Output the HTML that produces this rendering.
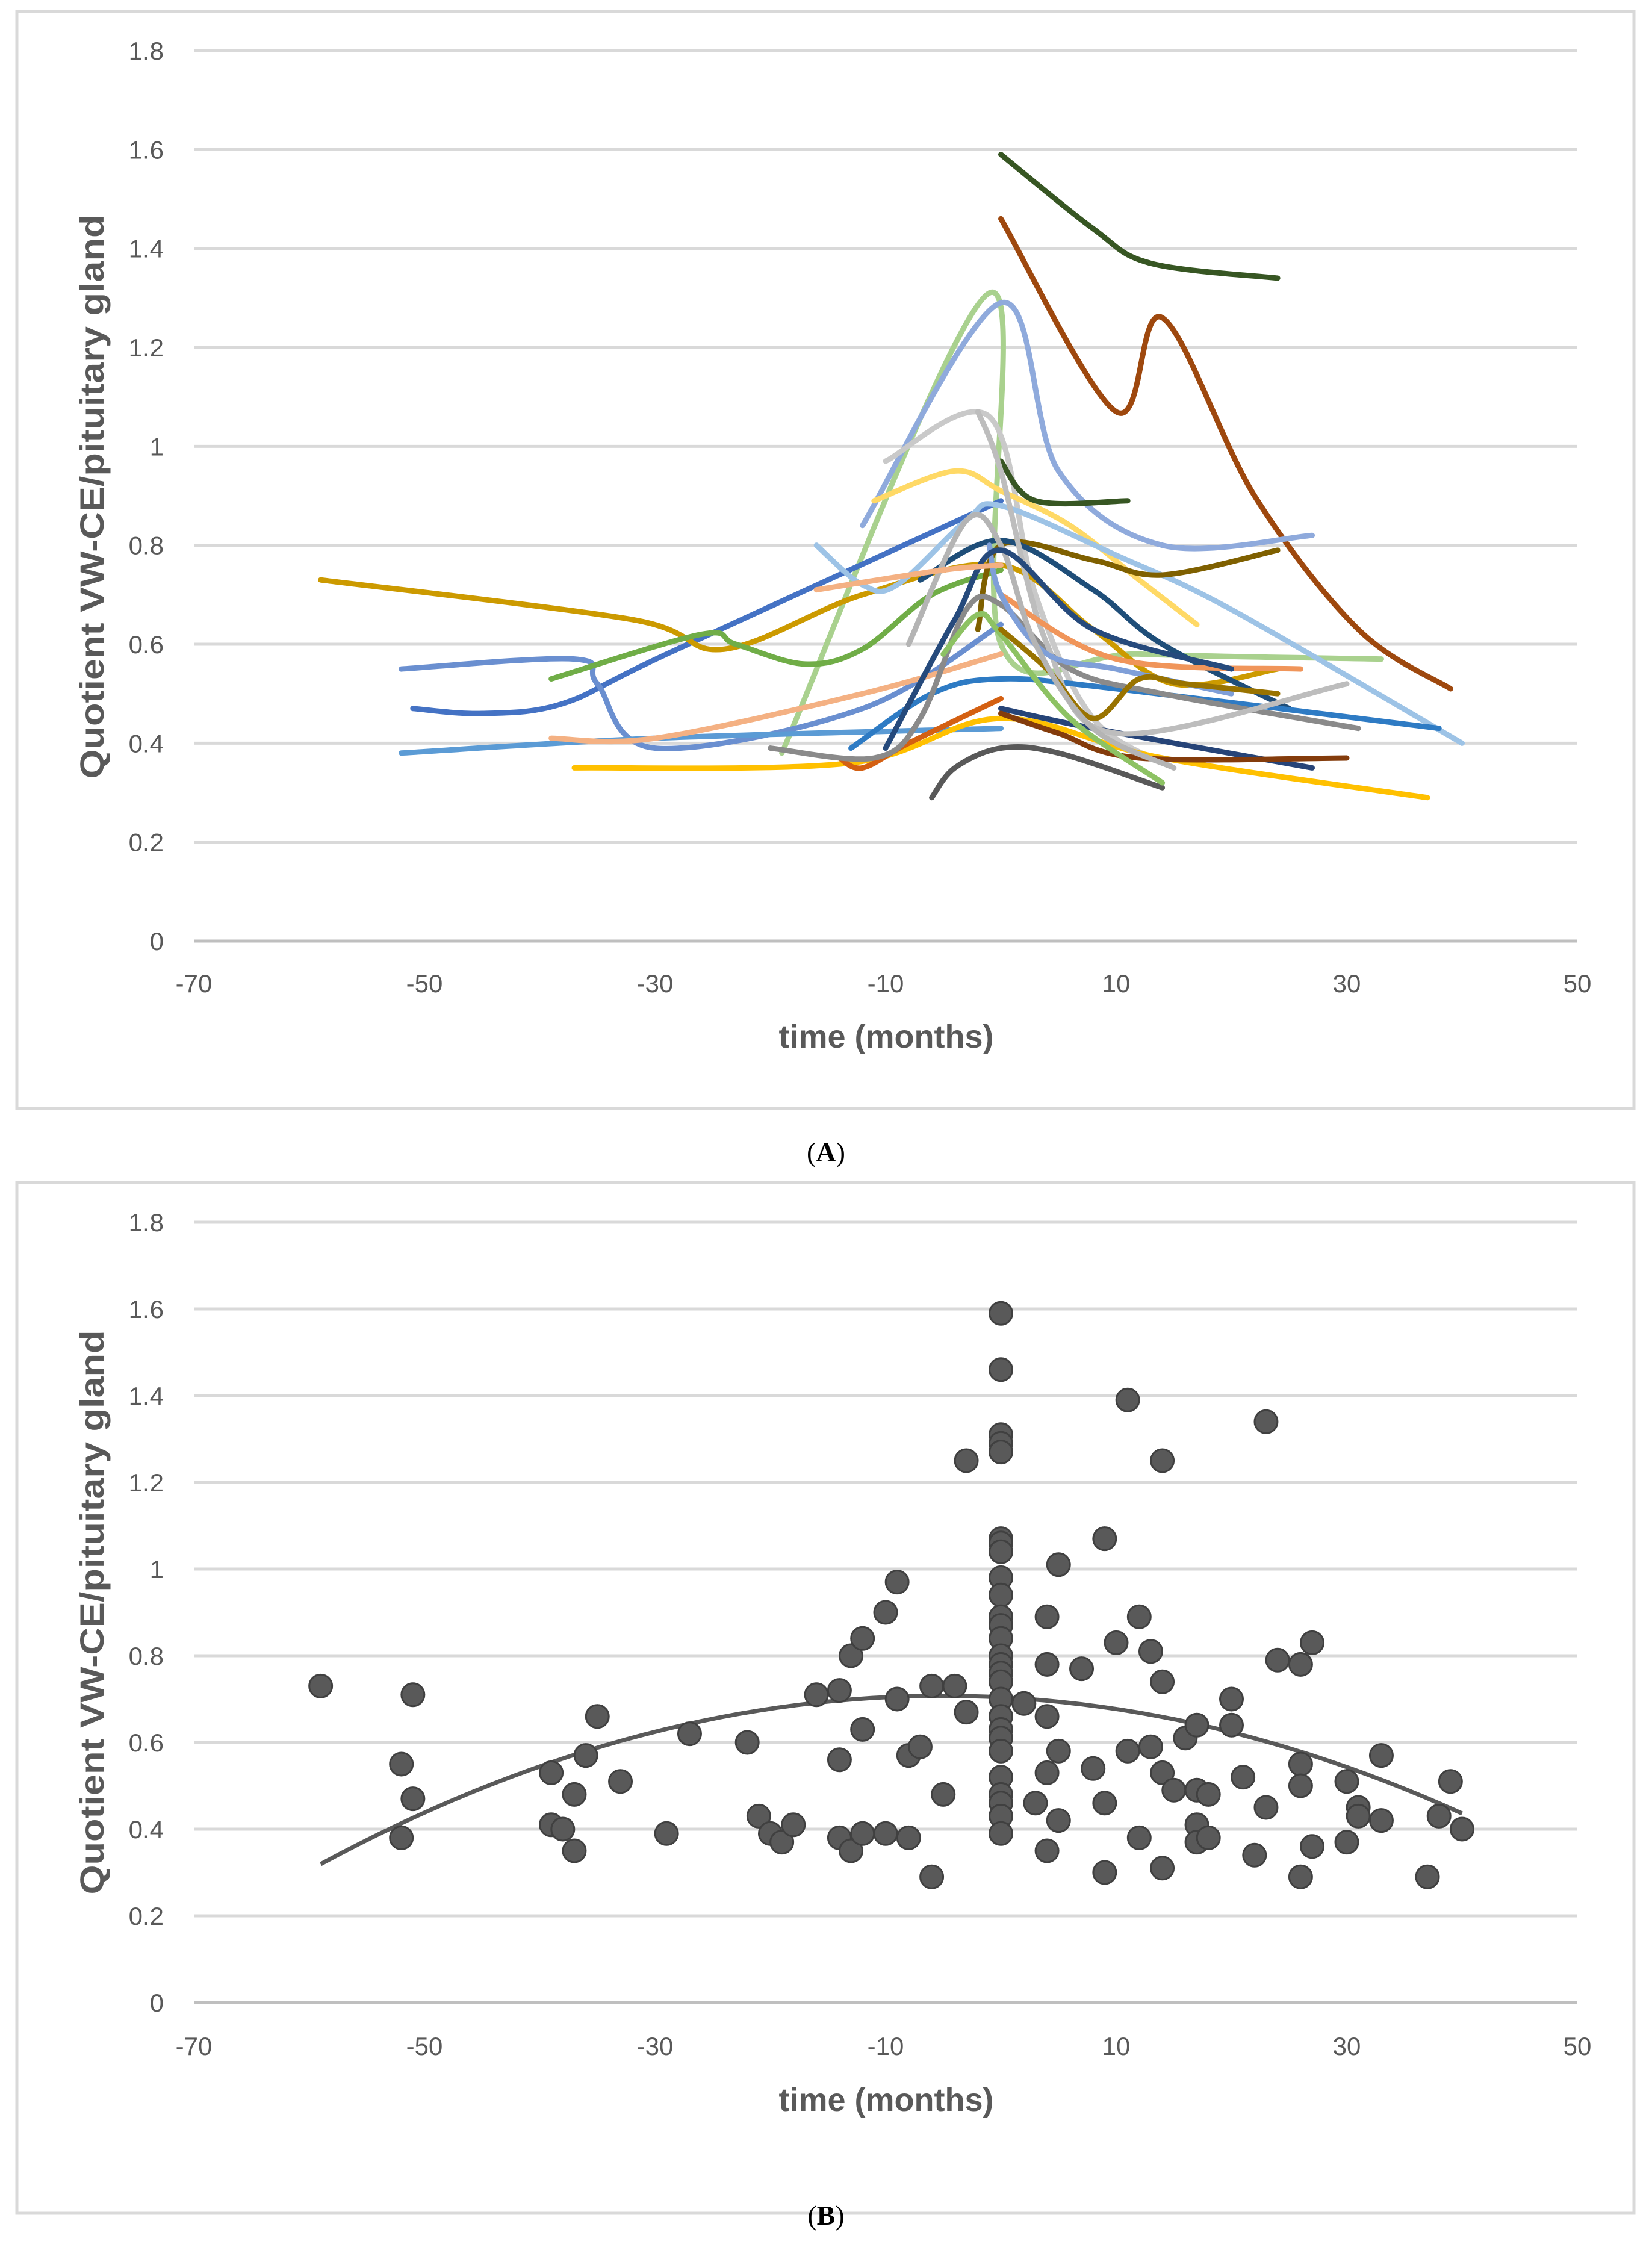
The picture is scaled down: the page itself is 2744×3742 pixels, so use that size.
<!DOCTYPE html>
<html><head><meta charset="utf-8"><style>
html,body{margin:0;padding:0;background:#fff;}
svg{display:block;font-family:"Liberation Sans",sans-serif;}
</style></head><body>
<svg id="svg" width="2744" height="3742" viewBox="0 0 2744 3742" xmlns="http://www.w3.org/2000/svg">
<rect x="28" y="19" width="2686" height="1822" fill="#fff" stroke="#d9d9d9" stroke-width="5"/>
<rect x="28" y="1964" width="2686" height="1712" fill="#fff" stroke="#d9d9d9" stroke-width="5"/>
<g id="chartA"></g>
<g id="chartB"></g>
<text x="1372" y="1929" text-anchor="middle" font-family="Liberation Serif, serif" font-size="46">(<tspan font-weight="bold">A</tspan>)</text>
<text x="1372" y="3695" text-anchor="middle" font-family="Liberation Serif, serif" font-size="46">(<tspan font-weight="bold">B</tspan>)</text>
</svg>
<script>
const xTicks = [-70,-50,-30,-10,10,30,50];
const yTicks = [0,0.2,0.4,0.6,0.8,1,1.2,1.4,1.6,1.8];
const yTickLabels = ["0","0.2","0.4","0.6","0.8","1","1.2","1.4","1.6","1.8"];

// Panel A series (months, quotient)
const seriesColors = ["#375623","#9e480e","#a9d18e","#8faadc","#c9c9c9","#ffd966","#375623","#4472c4","#6a8fd0","#cc9a00","#70ad47","#5b9bd5","#ffc000","#d46012","#595959","#9dc3e6","#f4b183","#7f6000","#1f4e79","#264478","#843c0c","#2e7bc4","#8a8a8a","#bdbdbd","#8dc263","#f0955a","#7f9fd8","#997300","#b4b4b4","#264a7c","#f4b183"];
const seriesX = [
 [0,8,13,24],
 [0,10,14,22,31,39],
 [-19,-1,0,12,33],
 [-12,0,5,14,27],
 [-10,-1,3,8,15],
 [-11,-4,0,6,12,17],
 [0,3,11],
 [-51,-45,-38,-29,0],
 [-52,-37,-35,-30,-12,0],
 [-59,-32,-24,-12,0,8,15,24],
 [-39,-26,-23,-17,-12,-6,0],
 [-52,-30,0],
 [-37,-13,0,14,37],
 [-14,-12,-8,0],
 [-6,-4,0,5,14],
 [-16,-12,-9,-3,0,10,20,40],
 [-39,-30,-12,0],
 [-2,0,8,14,24],
 [-7,0,8,14,25],
 [0,8,27],
 [0,5,12,30],
 [-13,-6,0,10,38],
 [-20,-11,-7,-3,0,6,14,31],
 [-2,0,4,10,30],
 [-5,-2,0,6,14],
 [0,10,26],
 [-1,0,4,10,20],
 [0,4,8,12,16,24],
 [-8,-3,0,3,8,15],
 [-10,-4,0,8,20],
 [-16,-5,0]
];
const seriesY = [
 [1.59,1.44,1.37,1.34],
 [1.46,1.07,1.26,0.90,0.63,0.51],
 [0.38,1.31,0.60,0.58,0.57],
 [0.84,1.29,0.95,0.80,0.82],
 [0.97,1.06,0.70,0.45,0.35],
 [0.89,0.95,0.91,0.84,0.73,0.64],
 [0.97,0.89,0.89],
 [0.47,0.46,0.48,0.58,0.89],
 [0.55,0.57,0.52,0.39,0.47,0.64],
 [0.73,0.65,0.59,0.70,0.76,0.63,0.52,0.55],
 [0.53,0.62,0.60,0.56,0.59,0.70,0.75],
 [0.38,0.41,0.43],
 [0.35,0.36,0.45,0.37,0.29],
 [0.37,0.35,0.40,0.49],
 [0.29,0.35,0.39,0.38,0.31],
 [0.80,0.72,0.72,0.85,0.88,0.78,0.67,0.40],
 [0.41,0.41,0.50,0.58],
 [0.63,0.80,0.77,0.74,0.79],
 [0.73,0.81,0.71,0.60,0.47],
 [0.47,0.43,0.35],
 [0.46,0.42,0.37,0.37],
 [0.39,0.50,0.53,0.51,0.43],
 [0.39,0.37,0.45,0.67,0.68,0.55,0.50,0.43],
 [1.07,0.95,0.60,0.42,0.52],
 [0.58,0.66,0.62,0.45,0.32],
 [0.70,0.57,0.55],
 [0.80,0.70,0.58,0.55,0.50],
 [0.63,0.55,0.45,0.53,0.52,0.50],
 [0.60,0.85,0.80,0.60,0.43,0.35],
 [0.39,0.65,0.79,0.63,0.55],
 [0.71,0.75,0.76]
];

// Panel B scatter
const ptX = [-59,-52,-51,-51,-52,-39,-39,-38,-37,-37,-36,-35,-33,-29,-27,-22,-21,-20,-19,-18,-16,-14,-14,-14,-13,-13,-12,-12,-12,-10,-10,-9,-9,-8,-8,-7,-6,-6,-5,-4,-3,-3,
 0,0,0,0,0,0,0,0,0,0,0,0,0,0,0,0,0,0,0,0,0,0,0,0,0,0,0,
 2,3,4,4,4,4,4,5,5,5,7,8,9,9,9,10,11,11,12,12,13,13,14,14,14,14,15,16,17,17,17,17,18,18,20,20,21,22,23,23,24,26,26,26,26,27,27,30,30,31,31,33,33,37,38,39,40];
const ptY = [0.73,0.55,0.71,0.47,0.38,0.53,0.41,0.40,0.48,0.35,0.57,0.66,0.51,0.39,0.62,0.60,0.43,0.39,0.37,0.41,0.71,0.72,0.56,0.38,0.35,0.80,0.84,0.63,0.39,0.90,0.39,0.97,0.70,0.57,0.38,0.59,0.73,0.29,0.48,0.73,1.25,0.67,
 1.59,1.46,1.31,1.29,1.27,1.07,1.06,1.04,0.98,0.94,0.89,0.87,0.84,0.80,0.78,0.76,0.74,0.70,0.66,0.63,0.61,0.58,0.52,0.48,0.46,0.43,0.39,
 0.69,0.46,0.89,0.78,0.66,0.53,0.35,1.01,0.58,0.42,0.77,0.54,1.07,0.46,0.30,0.83,1.39,0.58,0.89,0.38,0.81,0.59,1.25,0.74,0.53,0.31,0.49,0.61,0.64,0.49,0.41,0.37,0.48,0.38,0.70,0.64,0.52,0.34,1.34,0.45,0.79,0.78,0.55,0.50,0.29,0.83,0.36,0.51,0.37,0.45,0.43,0.57,0.42,0.29,0.43,0.51,0.40];

const NS="http://www.w3.org/2000/svg";
function mk(tag, attrs, parent){const e=document.createElementNS(NS,tag);for(const k in attrs)e.setAttribute(k,attrs[k]);parent.appendChild(e);return e;}

const X0=322, X1=2620;
function xs(v){return X0+(v+70)*(X1-X0)/120;}
function makeY(y0px,y18px){return v=>y0px+(y18px-y0px)*v/1.8;}
const yA=makeY(1563,84), yB=makeY(3326,2030);

function axes(g,ys,labelY,titleY,titleCY,key){
  yTicks.forEach((t,i)=>{
    const ln=mk('line',{x1:X0,x2:X1,y1:ys(t),y2:ys(t),stroke:i===0?'#bfbfbf':'#d9d9d9','stroke-width':5},g);
    
    
    const tx=mk('text',{x:272,y:ys(t)+15,'text-anchor':'end','font-size':42,fill:'#595959'},g);
    tx.textContent=yTickLabels[i];
    
    
  });
  xTicks.forEach(t=>{
    const tx=mk('text',{x:xs(t),y:labelY,'text-anchor':'middle','font-size':42,fill:'#595959'},g);
    tx.textContent=String(t);
    
    
  });
  const xt=mk('text',{x:1472,y:titleY,'text-anchor':'middle','font-size':54,'font-weight':'bold',fill:'#595959'},g);
  xt.textContent='time (months)';
  
  
  const yt=mk('text',{x:0,y:0,'text-anchor':'middle','font-size':56,'font-weight':'bold',fill:'#595959',textLength:937,lengthAdjust:'spacingAndGlyphs',transform:'translate(172,'+titleCY+') rotate(-90)'},g);
  yt.textContent='Quotient VW-CE/pituitary gland';
  
  
}

function smoothPath(pts){
  if(pts.length<2)return '';
  let d='M'+pts[0][0]+' '+pts[0][1];
  for(let i=0;i<pts.length-1;i++){
    const p0=pts[i-1]||pts[i],p1=pts[i],p2=pts[i+1],p3=pts[i+2]||p2;
    const c1=[p1[0]+(p2[0]-p0[0])/6,p1[1]+(p2[1]-p0[1])/6];
    const c2=[p2[0]-(p3[0]-p1[0])/6,p2[1]-(p3[1]-p1[1])/6];
    d+=' C'+c1[0]+' '+c1[1]+' '+c2[0]+' '+c2[1]+' '+p2[0]+' '+p2[1];
  }
  return d;
}

const gA=document.getElementById('chartA');
axes(gA,yA,1648,1740,825,'chart-a');
seriesX.forEach((xsArr,i)=>{
  const pts=xsArr.map((x,j)=>[xs(x),yA(seriesY[i][j])]);
  const p=mk('path',{d:smoothPath(pts),fill:'none',stroke:seriesColors[i%seriesColors.length],'stroke-width':9,'stroke-linecap':'round','stroke-linejoin':'round'},gA);
  
  
});

const gB=document.getElementById('chartB');
axes(gB,yB,3413,3506,2678,'chart-b');
(function(){
  let S=[0,0,0,0,0],T=[0,0,0];
  ptX.forEach((x,i)=>{const y=ptY[i];let p=1;for(let k=0;k<5;k++){S[k]+=p;p*=x;}T[0]+=y;T[1]+=y*x;T[2]+=y*x*x;});
  const M=[[S[0],S[1],S[2],T[0]],[S[1],S[2],S[3],T[1]],[S[2],S[3],S[4],T[2]]];
  for(let c=0;c<3;c++){for(let r=c+1;r<3;r++){const f=M[r][c]/M[c][c];for(let k=c;k<4;k++)M[r][k]-=f*M[c][k];}}
  const co=[0,0,0];
  for(let r=2;r>=0;r--){let s=M[r][3];for(let k=r+1;k<3;k++)s-=M[r][k]*co[k];co[r]=s/M[r][r];}
  const xmin=Math.min(...ptX),xmax=Math.max(...ptX);
  let d='';
  for(let k=0;k<=60;k++){const x=xmin+(xmax-xmin)*k/60;const y=co[0]+co[1]*x+co[2]*x*x;d+=(k?' L':'M')+xs(x)+' '+yB(y);}
  const tl=mk('path',{d:d,fill:'none',stroke:'#595959','stroke-width':7},gB);
  
  
})();
ptX.forEach((x,i)=>{
  const c=mk('circle',{cx:xs(x),cy:yB(ptY[i]),r:19,fill:'#595959',stroke:'#404040','stroke-width':3},gB);
  
  
});
</script>
</body></html>
